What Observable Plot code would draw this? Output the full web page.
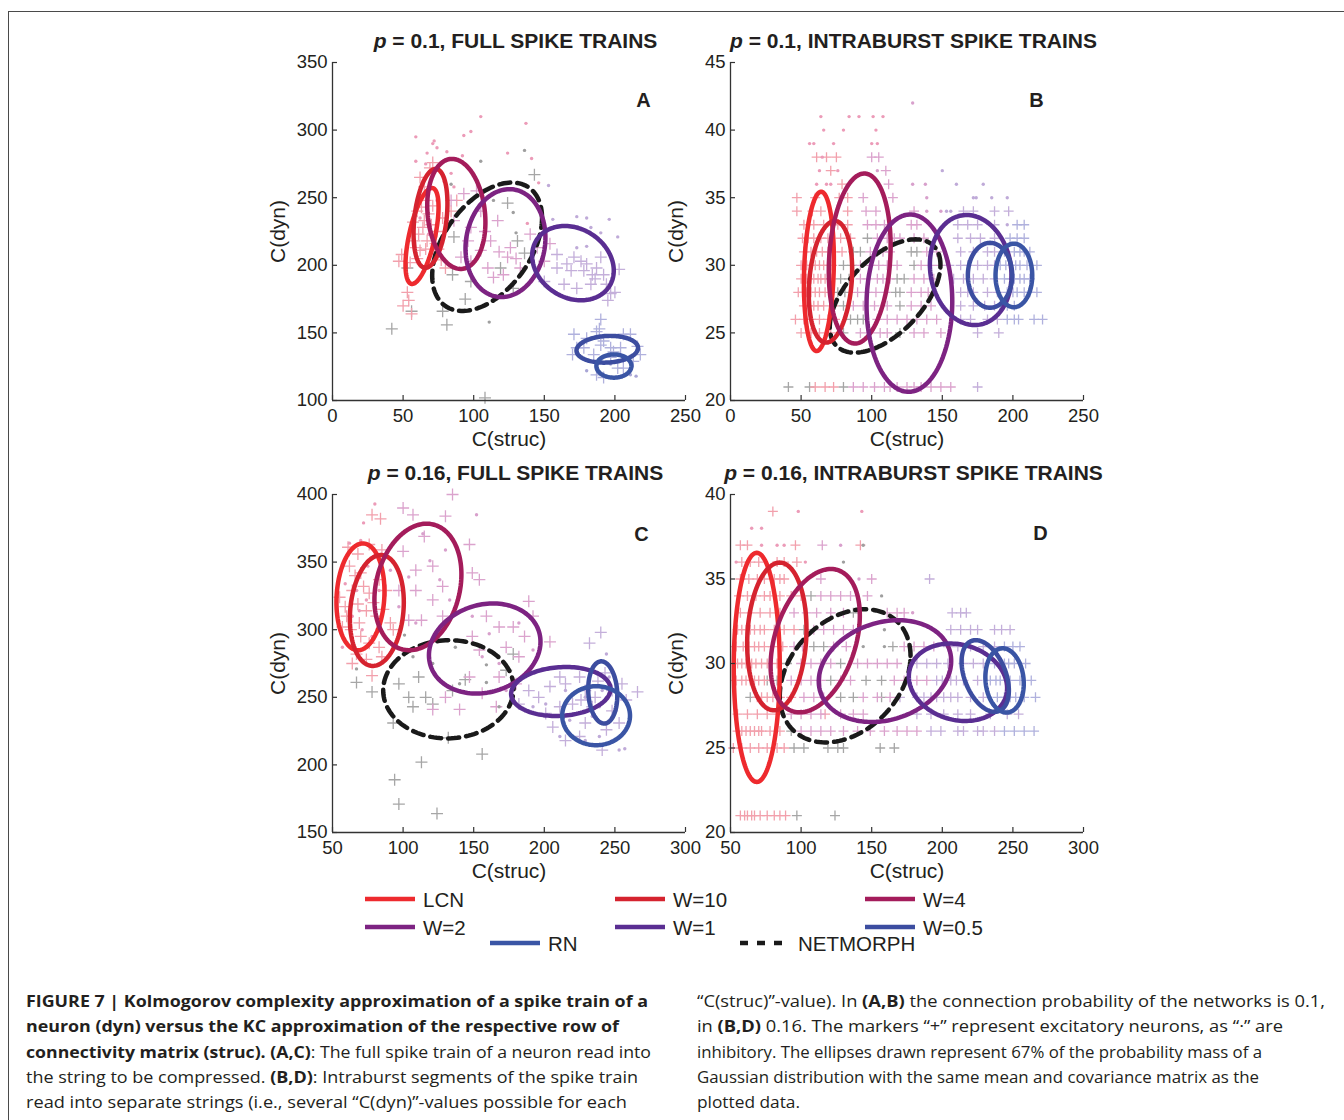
<!DOCTYPE html>
<html><head><meta charset="utf-8">
<script src="https://cdn.jsdelivr.net/npm/d3@7"></script>
<script src="https://cdn.jsdelivr.net/npm/@observablehq/plot@0.6"></script>
<style>
body{margin:0;background:#fff;}
#page{position:relative;width:1344px;height:1120px;overflow:hidden;background:#fff;font-family:"Liberation Sans",Arial,sans-serif;color:#231f20;}
.panel{position:absolute;width:443px;height:443px;}
.panel svg{overflow:visible;}
#frameTop{position:absolute;left:8px;top:11px;width:1340px;height:0;border-top:1.5px solid #4a4a4a;}
#frameLeft{position:absolute;left:8px;top:11px;width:0;height:1115px;border-left:1.5px solid #4a4a4a;}
.cap{position:absolute;top:989px;font-family:"Open Sans",Lato,sans-serif;font-size:16px;line-height:25.3px;color:#231f20;white-space:nowrap;}
.cap .ln{display:block;width:max-content;transform-origin:0 0;}
.cap b{font-weight:700;}
#legend{position:absolute;left:0;top:880px;}
</style></head><body><div id="page">
<div id="frameTop"></div><div id="frameLeft"></div>
<div id="pA" class="panel" style="left:262px;top:17px"></div>
<div id="pB" class="panel" style="left:660px;top:17px"></div>
<div id="pC" class="panel" style="left:262px;top:449px"></div>
<div id="pD" class="panel" style="left:660px;top:449px"></div>
<div id="legend"></div>
<div class="cap" style="left:26px">
<span class="ln" data-w="622"><b>FIGURE 7 | Kolmogorov complexity approximation of a spike train of a</b></span>
<span class="ln" data-w="593"><b>neuron (dyn) versus the KC approximation of the respective row of</b></span>
<span class="ln" data-w="625"><b>connectivity matrix (struc). (A,C)</b>: The full spike train of a neuron read into</span>
<span class="ln" data-w="612">the string to be compressed. <b>(B,D)</b>: Intraburst segments of the spike train</span>
<span class="ln" data-w="601">read into separate strings (i.e., several “C(dyn)”-values possible for each</span>
</div>
<div class="cap" style="left:697px">
<span class="ln" data-w="628">“C(struc)”-value). In <b>(A,B)</b> the connection probability of the networks is 0.1,</span>
<span class="ln" data-w="586">in <b>(B,D)</b> 0.16. The markers “+” represent excitatory neurons, as “·” are</span>
<span class="ln" data-w="565">inhibitory. The ellipses drawn represent 67% of the probability mass of a</span>
<span class="ln" data-w="562">Gaussian distribution with the same mean and covariance matrix as the</span>
<span class="ln" data-w="103">plotted data.</span>
</div>
</div>
<script>
// ---------- series ----------
const seriesNames = ["LCN","W=10","W=4","W=2","W=1","W=0.5","RN","NETMORPH"];
const seriesColors = ["#EE2A2E","#D5232F","#A41C5B","#7D2382","#5A2E92","#3C4DA0","#3A55A5","#1a1a1a"];

// ---------- ticks ----------
const xTicksAB = [0,50,100,150,200,250];
const xTicksCD = [50,100,150,200,250,300];
const yTicksA = [100,150,200,250,300,350];
const yTicksB = [20,25,30,35,40,45];
const yTicksC = [150,200,250,300,350,400];
const yTicksD = [20,25,30,35,40];

// ---------- ellipses: [name, cx, cy, halfWidthX, halfHeightY, tilt(corr)] ----------
const aEllipses = [["NETMORPH",109.5,213.7,38.9,47.5,0.45],["LCN",63.4,221.7,11.7,35.5,0.6],["W=10",69.4,234.7,12,36.6,0.3],["W=4",87.7,238,20.6,40.7,-0.15],["W=2",122.5,216.4,28.3,39.9,0.1],["W=1",170.3,201.6,28.9,27.5,-0.2],["W=0.5",194.6,137.9,21.8,9.9,0.1],["RN",199.3,125.5,12.4,8.6,0]];
const bEllipses = [["NETMORPH",109.5,27.73,39.2,4.19,0.55],["LCN",62.6,29.55,10.6,5.89,0.15],["W=10",70.8,28.78,15.35,4.5,0.2],["W=4",91.5,30.5,21.9,6.29,0.15],["W=2",126.7,27.2,30.35,6.56,0.02],["W=1",170.1,29.65,28.9,4.07,-0.1],["W=0.5",183.8,29.26,15.7,2.4,0],["RN",200.7,29.25,13,2.35,0]];
const cEllipses = [["NETMORPH",132.1,255.9,46.2,36.3,0.02],["LCN",69.8,324.3,17,39.5,0.1],["W=10",81.4,314.2,19.1,41,0.15],["W=4",110.5,331.6,30.8,46.8,0.2],["W=2",157.8,286.1,39.5,33.3,0.15],["W=1",211.7,254.3,35.2,18.1,0.1],["W=0.5",241.4,253.6,10.3,23,-0.1],["RN",236.7,236.4,24,21.8,0]];
const dEllipses = [["NETMORPH",131.2,29.27,46.3,3.94,0.3],["LCN",68.6,29.77,16.3,6.78,0],["W=10",82.8,31.6,21,4.37,0.1],["W=4",110,31.35,31.6,4.24,0.35],["W=2",159.4,29.55,46.9,3.01,0.2],["W=1",211.1,28.89,34.8,2.29,-0.15],["W=0.5",230.4,29.26,16.75,2.12,-0.4],["RN",244.1,29.0,13.6,1.9,-0.1]];

// ---------- panel A points [C(struc), C(dyn)] ----------
const aSalmonPlus = [[49,208],[47,203],[55,202],[53,180],[54,174],[50,170],[56,164],[62,265],[66,248],[60,240],[65,233],[61,223],[67,218],[62,211],[72,208],[69,272],[71,276],[58,218],[74,225],[78,235],[84,240],[77,204],[80,198],[88,248],[64,228],[68,238],[59,213],[73,216],[65,258],[63,243],[70,230],[66,212],[60,205],[75,212],[71,244],[57,232]];
const aPinkPlus = [[93,253],[86,233],[98,228],[105,240],[117,233],[112,218],[105,211],[98,203],[91,206],[110,198],[114,191],[124,206],[126,213],[140,223],[145,213],[150,203],[154,216],[84,248],[102,255],[121,193],[133,198],[96,218],[108,225],[118,210],[130,205]];
const aLavPlus = [[159,208],[166,201],[171,206],[176,203],[178,196],[184,193],[187,198],[192,193],[197,179],[200,180],[195,174],[203,197],[164,186],[159,198],[173,183],[183,186],[190,206],[169,196],[180,201],[150,188],[186,190],[194,186]];
const aBluePlus = [[190,160],[189,153],[187,151],[171,149],[173,139],[170,134],[180,146],[192,144],[197,139],[206,149],[211,149],[216,140],[218,134],[213,129],[206,124],[187,119],[192,117],[202,124],[178,139],[185,134],[197,132],[204,139],[190,141],[199,136]];
const aGrayPlus = [[143,267],[42,153],[81,156],[94,175],[78,166],[56,166],[108,102],[124,246],[131,218],[136,209],[119,198],[98,188],[85,193],[86,221],[53,198],[128,183]];
const aPinkDot = [[105,310],[137,305],[59,295],[98,299],[93,296],[72,292],[71,290],[74,287],[67,283],[81,284],[92,281],[124,283],[141,279],[59,277],[66,275],[84,268],[146,261],[138,231],[62,235],[68,223],[58,228],[74,248],[86,258],[79,262]];
const aLavDot = [[153,259],[156,234],[173,236],[180,235],[196,234],[202,221],[190,224],[183,228],[173,213],[180,214]];
const aGrayDot = [[105,277],[136,285],[128,239],[111,158],[84,260],[130,224],[114,248]];
const aBlueDot = [[215,118],[211,119],[180,122],[197,127],[206,132]];

// ---------- panel B rows: [C(dyn), C(struc)...] ----------
const bSalmonPlus = [[38,61,68,75],[37,71],[36,79],[35,47,60,77,83],[34,47,58,64,83],[33,52,59,66,76,83],[32,51,55,59,64,69,78,85],[31,52,57,61,65,69,74,79],[30,50,54,57,60,63,66,69,72],[29,50,54,57,59,62,64,67,71],[28,48,51,54,57,60,63,67],[27,52,56,59,62,66,73],[26,46,52,57,63,69,74],[25,50,57,63,71],[21,60,67,73]];
const bPinkPlus = [[38,100,105],[37,110],[36,112],[35,94,115],[34,96,103,130],[33,97,103,109,128,132],[32,104,111,116,120,130,137],[31,99,104,108,113,139,146],[30,92,99,105,111,118,135,142,149],[29,92,97,104,108,113,130,137,144],[28,90,97,103,110,128,135,140],[27,87,94,102,111,128,135,142],[26,104,111,118,125,132,139,146],[25,92,99,106,111,130,137,149],[21,87,94,102,109,113,118,125,130,135,142,149,156]];
const bLavPlus = [[34,165,172,187,197],[33,161,168,175,187],[32,161,170,177,187],[31,163,172,182,187],[30,155,163,168,175,182,187],[29,158,165,172,179,187],[28,163,168,172,182,189],[27,163,172,180,187],[26,163,170,182,189],[25,175,190],[21,175]];
const bBluePlus = [[33,203,208],[32,198,203,208],[31,194,201,205,208,212],[30,191,195,198,202,205,210,217],[29,194,198,201,205,208,212],[28,196,200,203,208,212,217],[27,191,196,201],[26,196,201,204,215,221]];
const bGrayPlus = [[32,97],[31,87,92,128,132],[30,80,86,130],[29,78,84,118,123],[28,76,81,117,120],[27,80,120],[26,85,90,94],[25,80,120],[21,41,56,80]];
const bSalmonDot = [[41,64,84,91,101,108],[40,66,80,103],[39,56,59,73,100,104],[38,65],[37,63,76],[36,61,68,71]];
const bPinkDot = [[42,129],[37,104],[36,129,138],[35,139],[34,139,149]];
const bLavDot = [[37,150],[36,160,179],[35,172,174,185,196],[34,153,156],[33,196]];

// ---------- panel C points ----------
const cSalmonPlus = [[78,385],[84,382],[61,361],[68,356],[76,363],[85,359],[62,347],[70,342],[64,329],[76,327],[83,337],[59,317],[68,319],[74,314],[81,310],[63,300],[70,295],[76,290],[83,287],[67,282],[85,280],[78,266],[93,300],[55,324],[57,302],[88,329],[91,305],[64,275],[74,278],[66,340],[72,332],[60,310],[79,320],[86,315],[69,305]];
const cPinkPlus = [[135,400],[100,390],[107,385],[130,384],[115,369],[100,358],[109,344],[121,347],[128,332],[147,363],[149,342],[154,337],[121,322],[113,307],[128,310],[104,307],[109,329],[97,329],[189,321],[192,310],[159,310],[168,302],[178,302],[149,295],[154,285],[173,287],[182,280],[168,265],[147,265],[156,253],[166,243],[130,250],[121,241],[140,241],[180,260],[204,291],[186,295]];
const cLavPlus = [[189,255],[196,250],[204,258],[211,265],[215,260],[225,265],[229,255],[232,290],[240,298],[220,245],[211,243],[206,228],[215,218],[225,221],[229,231],[244,226],[241,211],[253,231],[258,248],[266,254],[255,260],[248,255],[234,243],[201,238],[182,245],[238,262],[243,268],[236,250],[248,240],[226,248]];
const cGrayPlus = [[67,261],[78,254],[93,231],[113,202],[94,189],[97,171],[124,164],[156,208],[132,220],[97,260],[111,265],[116,250],[121,245],[135,255],[104,250],[144,263],[178,282],[173,270],[107,243]];
const cSalmonDot = [[80,393],[72,379],[62,364],[70,366],[75,347],[59,334],[67,329],[74,322],[64,310],[71,300],[78,295],[57,287],[69,314],[83,329]];
const cPinkDot = [[152,385],[119,351],[126,337],[104,339],[133,322],[149,310],[161,297],[182,305],[192,285],[140,292],[168,275],[109,305],[97,317],[91,344],[114,371],[130,359],[156,280],[173,255]];
const cGrayDot = [[101,296],[137,287],[159,274],[159,261],[140,260],[121,275],[107,280],[67,271],[168,243]];
const cLavDot = [[192,243],[201,245],[215,255],[229,250],[244,282],[246,265],[234,236],[244,231],[215,226],[211,221],[253,211],[257,212],[239,221],[229,218],[218,233],[239,243],[244,250],[241,255]];

// ---------- panel D rows: [C(dyn), C(struc)...] ----------
const dSalmonPlus = [[39,80],[37,57,62,96,142],[36,58,64,70,83,88,97],[35,57,63,69,74,81,85,88],[34,56,62,68,74,78,85,93,100],[33,57,64,71,78,85],[32,55,58,61,64,67,71,74,81,88,95],[31,54,59,63,67,70,74,80,87],[30,55,58,61,65,68,72,76,83],[29,54,58,61,64,67,70,74],[28,69,72,76,80,85,93],[27,55,62,69,76,83,117],[26,55,58,61,64,67,70,72,78,85],[25,52,58,64,70,76,83,88],[21,57,60,62,65,67,71,76,81,85,89]];
const dPinkPlus = [[37,115],[35,114,150],[34,114,121,128,135,147],[33,95,104,111,121,130,161,168,173],[32,109,116,123,130,137],[31,95,101,123,132,173,180,187,194],[30,100,107,114,121,140,147,154,161,168],[29,93,100,107,114,128,135,166,173,182,189],[28,102,109,116,144,154,163],[27,93,100,107,114,128,137,144],[26,100,107,114,121,130,140,149,159,168,175,182]];
const dLavPlus = [[35,191],[33,207,213,217],[32,206,213,220,225,237,242,248],[31,204,211,220,229,237],[30,182,189,196,204,215,222,229],[29,196,200,206,210,215,225],[28,170,182,187,192,196,201,206,211,220,229],[27,182,192,201,211,220,234,246,254],[26,192,199,211,215,225,229,237]];
const dBluePlus = [[31,244,250,255],[30,237,241,244,247,251,259],[29,234,238,241,245,248,255,263],[28,239,244,248,252,258,266],[26,244,251,258,265]];
const dGrayPlus = [[34,107],[33,137],[32,102],[31,109,116,165],[30,90,128],[29,76,83,121,146,157],[28,64,128,137,157],[26,93],[25,95,102,119,126,130,156,166],[21,97,124]];
const dSalmonDot = [[39,98,143],[38,65,72],[37,72,83,88],[36,54,103]];
const dPinkDot = [[37,128],[35,141],[33,179]];
const dGrayDot = [[37,144],[36,130],[34,157],[32,159],[31,144,159]];

// ---------- helpers ----------
const colorOf = Object.fromEntries(seriesNames.map((n,i)=>[n,seriesColors[i]]));
const cross = {draw(ctx, size){const r=Math.sqrt(size/Math.PI);ctx.moveTo(-r,0);ctx.lineTo(r,0);ctx.moveTo(0,-r);ctx.lineTo(0,r);}};
function rows(arr){const out=[];for(const [y,...xs] of arr) for(const x of xs) out.push([x,y]);return out;}
function ellipsePts(list){const out=[];for(const [name,cx,cy,sx,sy,rho] of list){const s=Math.sqrt(1-rho*rho);for(let i=0;i<=140;i++){const t=i/140*2*Math.PI;out.push({name,x:cx+sx*Math.cos(t),y:cy+sy*(rho*Math.cos(t)+s*Math.sin(t))});}}return out;}

const C = {salmon:"#F2A0AC", pink:"#DBA3CD", lav:"#C4AFDA", blue:"#B0B1DD", gray:"#A6A6A6",
           salmonDot:"#EC9BB8", pinkDot:"#D8A0CC", lavDot:"#BFAAD8", grayDot:"#9F9F9F", blueDot:"#A9A6D6"};

const FW = 353, FH = 338;
function panel(el, cfg){
  const plusMarks = cfg.plus.map(([pts,col])=>Plot.dot(pts,{x:d=>d[0],y:d=>d[1],symbol:cross,r:cfg.pr,stroke:col,strokeWidth:1.3,fill:"none"}));
  const dotMarks = cfg.dots.map(([pts,col])=>Plot.dot(pts,{x:d=>d[0],y:d=>d[1],r:1.7,fill:col,stroke:"none"}));
  const ell = ellipsePts(cfg.ellipses);
  const svg = Plot.plot({
    width: 70+FW+20, height: 45+FH+60,
    marginLeft:70, marginTop:45, marginRight:20, marginBottom:60,
    style:{fontFamily:"'Liberation Sans', Arial, sans-serif", fontSize:"18.5px", color:"#231f20", background:"transparent", overflow:"visible"},
    x:{domain:cfg.xd}, y:{domain:cfg.yd}, color:{type:"identity"},
    marks:[
      ...plusMarks, ...dotMarks,
      Plot.line(ell.filter(d=>d.name==="NETMORPH"),{x:"x",y:"y",z:"name",stroke:"#1a1a1a",strokeWidth:4.5,strokeDasharray:"11,7"}),
      Plot.line(ell.filter(d=>d.name!=="NETMORPH"),{x:"x",y:"y",z:"name",stroke:d=>colorOf[d.name],strokeWidth:4.5}),
      Plot.ruleY([cfg.yd[0]],{stroke:"#333",strokeWidth:1.3}),
      Plot.ruleX([cfg.xd[0]],{stroke:"#333",strokeWidth:1.3}),
      Plot.tickX(cfg.xt,{x:d=>d,insetTop:FH-5,stroke:"#333",strokeWidth:1.2}),
      Plot.tickY(cfg.yt,{y:d=>d,insetRight:FW-5,stroke:"#333",strokeWidth:1.2}),
      Plot.axisX(cfg.xt,{tickSize:0,tickPadding:8,label:null}),
      Plot.axisY(cfg.yt,{tickSize:0,tickPadding:5,label:null}),
      Plot.text(["C(struc)"],{text:d=>d,frameAnchor:"bottom",dy:38.5,fontSize:21,textAnchor:"middle",lineAnchor:"middle"}),
      Plot.text(["C(dyn)"],{text:d=>d,frameAnchor:"left",dx:-54,rotate:-90,fontSize:21,textAnchor:"middle",lineAnchor:"middle"}),
      Plot.text([cfg.letter],{text:d=>d,frameAnchor:"top-right",dx:cfg.ldx,dy:cfg.ldy,fontSize:20,fontWeight:"bold",textAnchor:"middle",lineAnchor:"middle"})
    ]
  });
  const t = d3.select(svg).append("text").attr("x",70+FW/2+7).attr("y",30.5)
    .attr("text-anchor","middle").attr("font-weight","bold").attr("font-size","21px").attr("fill","#231f20")
    .attr("font-family","'Liberation Sans', Arial, sans-serif");
  t.append("tspan").attr("font-style","italic").text("p");
  t.append("tspan").text(cfg.title);
  document.getElementById(el).appendChild(svg);
}

panel("pA",{xd:[0,250],yd:[100,350],xt:xTicksAB,yt:yTicksA,pr:6,letter:"A",ldx:-42,ldy:38,title:" = 0.1, FULL SPIKE TRAINS",ellipses:aEllipses,
  plus:[[aGrayPlus,C.gray],[aSalmonPlus,C.salmon],[aPinkPlus,C.pink],[aLavPlus,C.lav],[aBluePlus,C.blue]],
  dots:[[aPinkDot,C.salmonDot],[aLavDot,C.lavDot],[aGrayDot,C.grayDot],[aBlueDot,C.blueDot]]});
panel("pB",{xd:[0,250],yd:[20,45],xt:xTicksAB,yt:yTicksB,pr:5,letter:"B",ldx:-47,ldy:38,title:" = 0.1, INTRABURST SPIKE TRAINS",ellipses:bEllipses,
  plus:[[rows(bGrayPlus),C.gray],[rows(bSalmonPlus),C.salmon],[rows(bPinkPlus),C.pink],[rows(bLavPlus),C.lav],[rows(bBluePlus),C.blue]],
  dots:[[rows(bSalmonDot),C.salmonDot],[rows(bPinkDot),C.pinkDot],[rows(bLavDot),C.lavDot]]});
panel("pC",{xd:[50,300],yd:[150,400],xt:xTicksCD,yt:yTicksC,pr:6,letter:"C",ldx:-44,ldy:40,title:" = 0.16, FULL SPIKE TRAINS",ellipses:cEllipses,
  plus:[[cGrayPlus,C.gray],[cSalmonPlus,C.salmon],[cPinkPlus,C.pink],[cLavPlus,C.lav]],
  dots:[[cSalmonDot,C.salmonDot],[cPinkDot,C.pinkDot],[cGrayDot,C.grayDot],[cLavDot,C.lavDot]]});
panel("pD",{xd:[50,300],yd:[20,40],xt:xTicksCD,yt:yTicksD,pr:5,letter:"D",ldx:-43,ldy:39,title:" = 0.16, INTRABURST SPIKE TRAINS",ellipses:dEllipses,
  plus:[[rows(dGrayPlus),C.gray],[rows(dSalmonPlus),C.salmon],[rows(dPinkPlus),C.pink],[rows(dLavPlus),C.lav],[rows(dBluePlus),C.blue]],
  dots:[[rows(dSalmonDot),C.salmonDot],[rows(dPinkDot),C.pinkDot],[rows(dGrayDot),C.grayDot]]});

// ---------- legend ----------
const legendLayout = [[365,899],[615,899],[865,899],[365,927],[615,927],[865,927],[490,943],[740,943]];
const leg = d3.select("#legend").append("svg").attr("width",1344).attr("height",80);
seriesNames.forEach((name,i)=>{
  const [lx,ly] = legendLayout[i];
  const y = ly-880;
  leg.append("line").attr("x1",lx).attr("x2",lx+50).attr("y1",y).attr("y2",y)
    .attr("stroke",seriesColors[i]).attr("stroke-width",4.5)
    .attr("stroke-dasharray",name==="NETMORPH"?"8,9":null);
  leg.append("text").attr("x",lx+58).attr("y",y+7.5).attr("font-size","20.5px")
    .attr("font-family","'Liberation Sans', Arial, sans-serif").attr("fill","#231f20").text(name);
});

// ---------- caption line fitting ----------
function fitCaption(){
  document.querySelectorAll(".cap .ln").forEach(el=>{
    el.style.transform="none";
    const w = el.getBoundingClientRect().width;
    const target = +el.dataset.w;
    if (w>0) el.style.transform = `scaleX(${target/w})`;
  });
}
fitCaption();
if (document.fonts && document.fonts.ready) document.fonts.ready.then(fitCaption);
</script>
</body></html>
